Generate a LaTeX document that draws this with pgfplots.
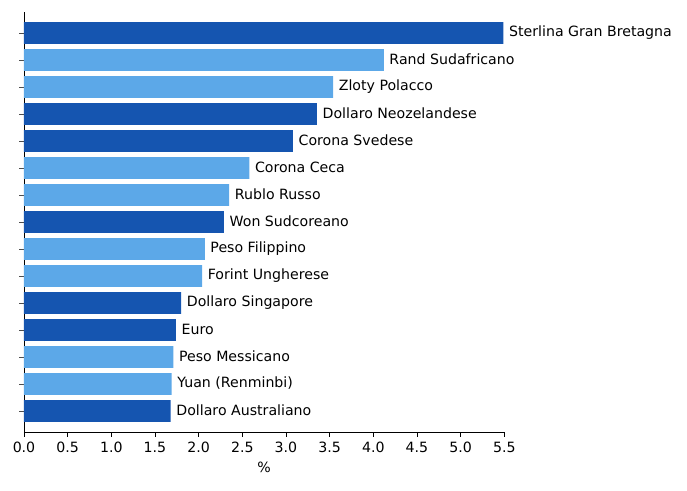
\documentclass[border=0pt]{standalone}
\usepackage{fontspec}
\setmainfont{DejaVu Sans}
\usepackage{pgfplots}
\usepackage{pgfplotstable}
\pgfplotsset{compat=1.18}
\definecolor{darkbar}{HTML}{1555B0}
\definecolor{lightbar}{HTML}{5CA8E8}
\pgfplotstableread[col sep=comma]{
y,x,name
14,5.49,Sterlina Gran Bretagna
11,3.355,Dollaro Neozelandese
10,3.08,Corona Svedese
7,2.29,Won Sudcoreano
4,1.80,Dollaro Singapore
3,1.74,Euro
0,1.68,Dollaro Australiano
}\darktab
\pgfplotstableread[col sep=comma]{
y,x,name
13,4.12,Rand Sudafricano
12,3.54,Zloty Polacco
9,2.58,Corona Ceca
8,2.35,Rublo Russo
6,2.07,Peso Filippino
5,2.04,Forint Ungherese
2,1.71,Peso Messicano
1,1.69,Yuan (Renminbi)
}\lighttab
\begin{document}
\fontsize{14.2}{16}\selectfont
\begin{tikzpicture}
\useasboundingbox (-24bp,-59bp) rectangle (663bp,432bp);
\begin{axis}[
  at={(0,0)}, anchor=south west,
  scale only axis,
  width=480.3bp, height=420bp,
  xmin=0, xmax=5.5,
  ymin=-0.778, ymax=14.778,
  axis x line*=bottom, axis y line*=left,
  axis line style={-, line width=0.8bp, black},
  xtick={0,0.5,...,5.5},
  ytick={0,1,...,14},
  yticklabels={},
  tick align=outside,
  major tick length=4.9bp,
  every tick/.style={line width=0.8bp},
  x tick style={black},
  y tick style={black!70},
  xticklabel style={/pgf/number format/fixed, /pgf/number format/fixed zerofill, /pgf/number format/precision=1, font=\fontsize{14.2}{16}\selectfont, text=black},
  /pgf/number format/assume math mode=true,
  xlabel={\%},
  xlabel style={at={(axis description cs:0.5,0)}, anchor=center, yshift=-35bp, font=\fontsize{14.2}{16}\selectfont},
  xbar, bar shift=0pt, bar width=21.6bp,
  point meta=explicit symbolic,
  nodes near coords,
  nodes near coords style={anchor=west, inner sep=0pt, xshift=5.5bp, yshift=0.6bp, font=\fontsize{14.2}{16}\selectfont, text=black},
  clip=false,
]
\addplot[draw=none, fill=darkbar] table[x=x, y=y, meta=name] {\darktab};
\addplot[draw=none, fill=lightbar] table[x=x, y=y, meta=name] {\lighttab};
\end{axis}
\end{tikzpicture}
\end{document}
